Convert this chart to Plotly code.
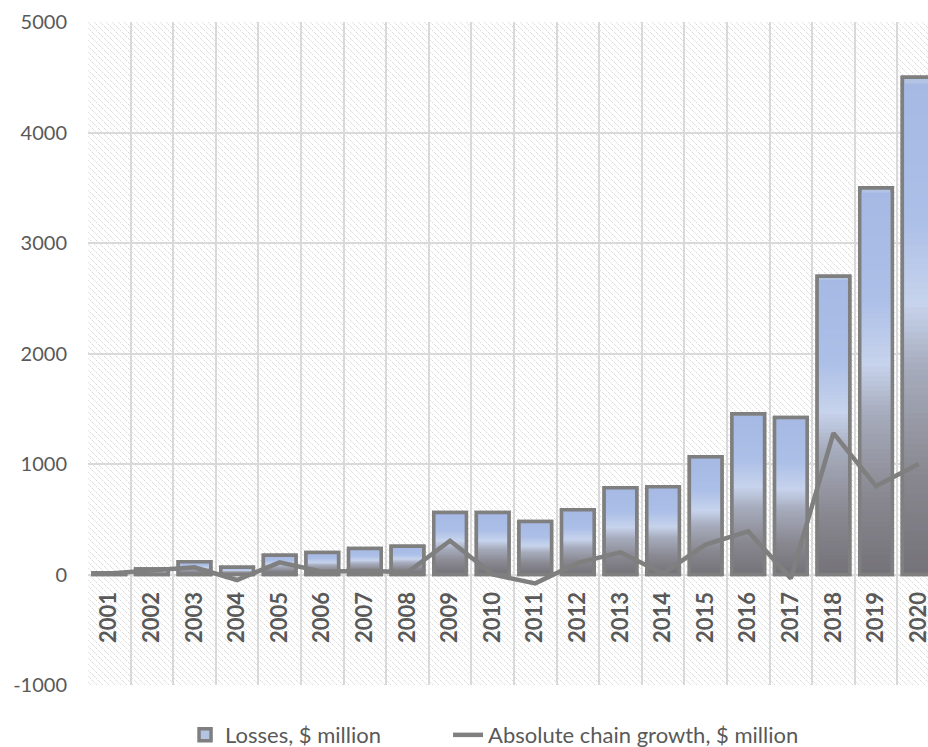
import base64
import plotly.graph_objects as go

# ---------------- data ----------------
years = [str(y) for y in range(2001, 2021)]
losses = [15, 50, 115, 65, 175, 200, 235, 255, 560, 560,
          480, 585, 785, 795, 1065, 1455, 1420, 2700, 3500, 4500]
growth = [10, 35, 65, -50, 110, 25, 35, 20, 305, 0,
          -80, 105, 200, 10, 270, 390, -35, 1280, 800, 1000]
y_ticks = [-1000, 0, 1000, 2000, 3000, 4000, 5000]
y_tick_text = ["-1000", "0", "1000", "2000", "3000", "4000", "5000"]
y_range = [-1000, 5000]
x_range = [-0.5, 19.22]

# ---------------- style ----------------
TEXT = "#595959"
GRID = "#d9d9d9"
OUTLINE = "#7f7f7f"
FONT = "Lato"
# gradient stops measured from the top of a bar (0) to its bottom (1)
stops = [(0.0, (165, 185, 228)), (0.28, (172, 191, 231)), (0.45, (199, 211, 236)),
         (0.58, (166, 171, 188)), (0.8, (136, 135, 143)), (1.0, (116, 114, 120))]
N_LAYERS = 80


def grad(t):
    for (p0, c0), (p1, c1) in zip(stops[:-1], stops[1:]):
        if p0 <= t <= p1:
            f = (t - p0) / (p1 - p0) if p1 > p0 else 0
            c = [round(a + (b - a) * f) for a, b in zip(c0, c1)]
            return "rgb(%d,%d,%d)" % tuple(c)
    return "rgb(%d,%d,%d)" % stops[-1][1]


fig = go.Figure()

# legend-bearing bar (full height, top colour)
fig.add_trace(go.Bar(
    x=years, y=losses, name="Losses, $ million",
    marker=dict(color="#b3c3e3", line=dict(color=OUTLINE, width=3.5)),
    hoverinfo="skip", legend="legend",
))
# gradient layers: progressively shorter bars in lower colours
for k in range(1, N_LAYERS):
    frac = k / N_LAYERS
    fig.add_trace(go.Bar(
        x=years, y=[v * (1 - frac) for v in losses],
        marker=dict(color=grad(frac), line=dict(width=0)),
        showlegend=False, hoverinfo="skip",
    ))
# outline on top
fig.add_trace(go.Bar(
    x=years, y=losses,
    marker=dict(color="rgba(0,0,0,0)", line=dict(color=OUTLINE, width=3.5)),
    showlegend=False, hoverinfo="skip",
))
# line series
fig.add_trace(go.Scatter(
    x=years, y=growth, mode="lines", name="Absolute chain growth, $ million",
    line=dict(color=OUTLINE, width=4.5), legend="legend2",
))

# hatched plot-area background
svg = (
    '<svg xmlns="http://www.w3.org/2000/svg" width="840" height="663">'
    '<defs><pattern id="h" width="6" height="6" patternUnits="userSpaceOnUse">'
    '<path d="M-1,-1 L7,7 M-1,5 L1,7 M5,-1 L7,1" stroke="#d9d9d9" stroke-width="1" '
    'stroke-dasharray="2.5,1"/>'
    '</pattern></defs><rect width="840" height="663" fill="white"/>'
    '<rect width="840" height="663" fill="url(#h)"/></svg>'
)
src = "data:image/svg+xml;base64," + base64.b64encode(svg.encode()).decode()

zero_pos = (0 - y_range[0]) / (y_range[1] - y_range[0])
legend_font = dict(family=FONT, size=22, color=TEXT)

fig.update_layout(
    width=928, height=747,
    margin=dict(l=88, r=0, t=22, b=62),
    paper_bgcolor="white",
    plot_bgcolor="rgba(0,0,0,0)",
    barmode="overlay",
    bargap=0.235,
    font=dict(family=FONT, color=TEXT),
    images=[dict(source=src, xref="paper", yref="paper", x=0, y=1,
                 sizex=1, sizey=1, sizing="stretch", layer="below",
                 xanchor="left", yanchor="top")],
    xaxis=dict(
        type="category", range=x_range, tickson="boundaries",
        showgrid=True, gridcolor=GRID, gridwidth=2,
        showline=False, ticks="", zeroline=False, automargin=False,
        anchor="free", position=zero_pos,
        tickangle=-90, ticklabelstandoff=12,
        tickfont=dict(family=FONT, size=22, color=TEXT, weight="bold"),
    ),
    yaxis=dict(
        range=y_range, tickvals=y_ticks, ticktext=y_tick_text,
        showgrid=True, gridcolor=GRID, gridwidth=2,
        zeroline=False, showline=False, ticks="", automargin=False,
        ticklabelstandoff=20,
        tickfont=dict(family=FONT, size=20, color=TEXT),
    ),
    legend=dict(
        orientation="h", xref="container", yref="container",
        x=0.1994, xanchor="left", y=0.016, yanchor="middle",
        font=legend_font, bgcolor="rgba(0,0,0,0)",
    ),
    legend2=dict(
        orientation="h", xref="container", yref="container",
        x=0.4828, xanchor="left", y=0.016, yanchor="middle",
        font=legend_font, bgcolor="rgba(0,0,0,0)",
    ),
    showlegend=True,
)

fig.write_html(
    "out.html",
    config={"displayModeBar": False},
    post_script="document.body.style.margin='0';document.body.style.overflow='hidden';",
)
